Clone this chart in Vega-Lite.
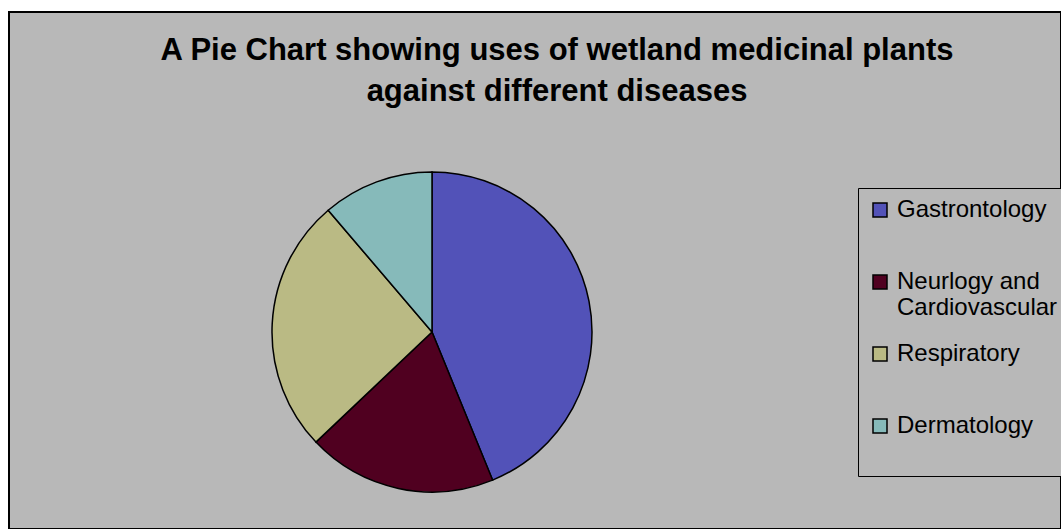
{
  "$schema": "https://vega.github.io/schema/vega-lite/v6.json",
  "width": 1061,
  "height": 529,
  "autosize": {"type": "fit", "contains": "padding"},
  "padding": {"left": 9, "top": 12, "right": 0, "bottom": 0},
  "background": "white",
  "title": {
    "text": ["A Pie Chart showing uses of wetland medicinal plants", "against different diseases"],
    "font": "Liberation Sans",
    "fontSize": 31,
    "fontWeight": "bold",
    "color": "black",
    "anchor": "middle",
    "lineHeight": 41,
    "offset": -96,
    "dx": 22
  },
  "config": {
    "view": {"fill": "#B8B8B8", "stroke": "black", "strokeWidth": 2}
  },
  "data": {
    "values": [
      {"category": "Gastrontology", "count": 39, "order": 1},
      {"category": "Neurlogy and Cardiovascular", "count": 17, "order": 2},
      {"category": "Respiratory", "count": 23, "order": 3},
      {"category": "Dermatology", "count": 10, "order": 4}
    ]
  },
  "mark": {"type": "arc", "radius": 160, "stroke": "black", "strokeWidth": 1.5},
  "encoding": {
    "theta": {"field": "count", "type": "quantitative", "stack": true},
    "order": {"field": "order", "type": "quantitative"},
    "x": {"value": 423},
    "y": {"value": 320},
    "color": {
      "field": "category",
      "type": "nominal",
      "scale": {
        "domain": ["Gastrontology", "Neurlogy and Cardiovascular", "Respiratory", "Dermatology"],
        "range": ["#5252B8", "#500020", "#BABA84", "#86BABA"]
      },
      "legend": {
        "orient": "none",
        "legendX": 849,
        "legendY": 176,
        "title": " ",
        "titleOrient": "bottom",
        "titleFontSize": 8,
        "titlePadding": 20,
        "fillColor": "#B8B8B8",
        "strokeColor": "black",
        "padding": 10,
        "symbolType": "square",
        "symbolSize": 196,
        "symbolStrokeColor": "black",
        "symbolStrokeWidth": 1.5,
        "labelFont": "Liberation Sans",
        "labelFontSize": 24,
        "labelColor": "black",
        "labelLimit": 300,
        "labelOffset": 5,
        "gridAlign": "all",
        "rowPadding": 22,
        "labelExpr": "datum.label == 'Neurlogy and Cardiovascular' ? ['Neurlogy and', 'Cardiovascular'] : datum.label"
      }
    }
  }
}
